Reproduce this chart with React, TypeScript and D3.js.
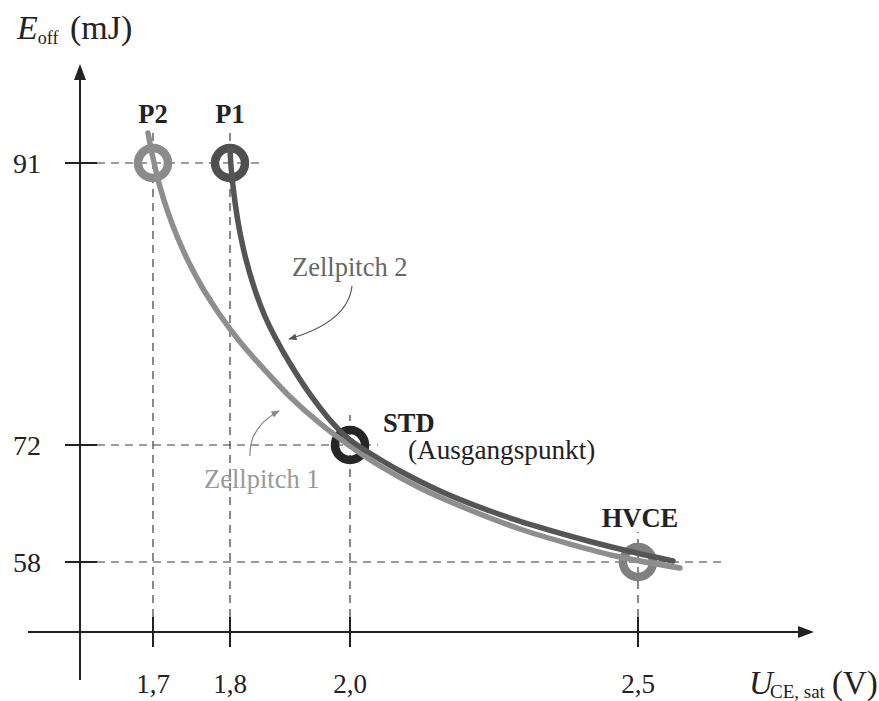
import React from "react";
import * as d3 from "d3";

// ---- data ----
const xTickValues = [1.7, 1.8, 2.0, 2.5];
const xTickLabels = ["1,7", "1,8", "2,0", "2,5"];
const yTickValues = [58, 72, 91];
const yTickLabels = ["58", "72", "91"];

// operating points
const pointNames = ["P2", "P1", "STD", "HVCE"];
const pointU = [1.7, 1.8, 2.0, 2.5];
const pointE = [91, 91, 72, 58];

// Zellpitch 1 (light curve)
const pitch1U = [1.6935, 1.7003, 1.7084, 1.7188, 1.7316, 1.7469, 1.7652, 1.7869, 1.8155, 1.8533, 1.9, 1.95, 2.0, 2.0521, 2.1215, 2.2083, 2.2951, 2.3819, 2.4688, 2.5729];
const pitch1E = [93.02, 91.27, 89.52, 87.77, 86.01, 84.26, 82.51, 80.76, 79.01, 77.26, 75.25, 73.45, 71.88, 69.49, 66.85, 64.22, 61.95, 60.15, 58.6, 57.28];

// Zellpitch 2 (dark curve)
const pitch2U = [1.8, 1.8015, 1.8043, 1.809, 1.8152, 1.826, 1.8417, 1.8573, 1.8732, 1.9015, 1.9377, 1.9738, 2.0, 2.0382, 2.0868, 2.1563, 2.2431, 2.3299, 2.4167, 2.4861, 2.5608];
const pitch2E = [92.01, 90.87, 89.72, 88.17, 86.62, 84.6, 82.44, 80.76, 79.41, 77.39, 75.17, 73.35, 72.34, 70.86, 68.89, 66.5, 64.1, 62.13, 60.45, 59.26, 58.12];

// ---- styles / layout ----
const W = 879;
const H = 701;
const AXIS_X = 80;
const AXIS_Y = 632;
const serif = "'Liberation Serif', 'Times New Roman', serif";
const ringColors = ["#8b8b8b", "#4f4f4f", "#262626", "#808080"];
const guideOver = [30, 32, 28, 89];

export default function App() {
  const x = d3.scaleLinear().domain([1.7, 1.8, 2.0, 2.5]).range([153, 230, 350, 638]);
  const y = d3.scaleLinear().domain([58, 72, 91]).range([562, 445, 163]);

  const line = d3
    .line<[number, number]>()
    .x((d) => x(d[0]))
    .y((d) => y(d[1]))
    .curve(d3.curveCatmullRom.alpha(0.5));

  const p1 = line(pitch1U.map((u, i) => [u, pitch1E[i]] as [number, number])) || "";
  const p2 = line(pitch2U.map((u, i) => [u, pitch2E[i]] as [number, number])) || "";

  const levels = Array.from(new Set(pointE));
  const hGuides = levels.map((e) => {
    const idx = pointE.map((v, i) => (v === e ? i : -1)).filter((i) => i >= 0);
    const maxX = d3.max(idx.map((i) => x(pointU[i]) + guideOver[i])) as number;
    return { e, x2: maxX };
  });

  const lab = 26.5;

  return (
    <svg
      width={W}
      height={H}
      style={{ position: "absolute", left: 0, top: 0, background: "#fff" }}
      fontFamily={serif}
    >
      <defs>
        <marker id="arrDark" viewBox="0 0 10 10" refX="9" refY="5" markerWidth="7" markerHeight="7" orient="auto">
          <path d="M0,1 L10,5 L0,9 z" fill="#555" />
        </marker>
        <marker id="arrLight" viewBox="0 0 10 10" refX="9" refY="5" markerWidth="7" markerHeight="7" orient="auto">
          <path d="M0,1 L10,5 L0,9 z" fill="#8a8a8a" />
        </marker>
      </defs>

      {/* guides */}
      {hGuides.map((g) => (
        <line key={"h" + g.e} x1={97} x2={g.x2} y1={y(g.e)} y2={y(g.e)} stroke="#3a3a3a" strokeWidth={1.2} strokeDasharray="8,6" />
      ))}
      {pointU.map((u, i) => (
        <line key={"v" + i} x1={x(u)} x2={x(u)} y1={AXIS_Y - 15} y2={y(pointE[i]) - 30} stroke="#3a3a3a" strokeWidth={1.2} strokeDasharray="8,6" />
      ))}

      {/* axes */}
      <line x1={AXIS_X} x2={AXIS_X} y1={680} y2={78} stroke="#222" strokeWidth={2} />
      <path d={`M${AXIS_X},64 L${AXIS_X - 6},80 L${AXIS_X + 6},80 Z`} fill="#222" />
      <line x1={28} x2={800} y1={AXIS_Y} y2={AXIS_Y} stroke="#222" strokeWidth={2} />
      <path d={`M814,${AXIS_Y} L798,${AXIS_Y - 6} L798,${AXIS_Y + 6} Z`} fill="#222" />

      {xTickValues.map((v, i) => (
        <g key={"xt" + i}>
          <line x1={x(v)} x2={x(v)} y1={AXIS_Y - 15} y2={AXIS_Y + 15} stroke="#222" strokeWidth={2} />
          <text x={x(v)} y={693} textAnchor="middle" fontSize={27} fill="#222">{xTickLabels[i]}</text>
        </g>
      ))}
      {yTickValues.map((v, i) => (
        <g key={"yt" + i}>
          <line x1={65} x2={97} y1={y(v)} y2={y(v)} stroke="#222" strokeWidth={2} />
          <text x={41} y={y(v)} dy="0.35em" textAnchor="end" fontSize={28} fill="#222">{yTickLabels[i]}</text>
        </g>
      ))}

      {/* rings */}
      {pointU.map((u, i) => (
        <circle key={"c" + i} cx={x(u)} cy={y(pointE[i])} r={15} fill="none" stroke={ringColors[i]} strokeWidth={8.5} />
      ))}

      {/* curves */}
      <path d={p1} fill="none" stroke="#8e8e8e" strokeWidth={5.5} strokeLinecap="round" />
      <path d={p2} fill="none" stroke="#555" strokeWidth={5.5} strokeLinecap="round" />

      {/* point labels */}
      <text x={x(pointU[0])} y={123} textAnchor="middle" fontSize={lab} fontWeight="bold" fill="#222">{pointNames[0]}</text>
      <text x={x(pointU[1])} y={123} textAnchor="middle" fontSize={lab} fontWeight="bold" fill="#222">{pointNames[1]}</text>
      <text x={383} y={432} fontSize={lab} fontWeight="bold" fill="#222">{pointNames[2]}</text>
      <text x={408} y={459} fontSize={27.2} fill="#222">(Ausgangspunkt)</text>
      <text x={640} y={527} textAnchor="middle" fontSize={lab} fontWeight="bold" fill="#222">{pointNames[3]}</text>

      {/* curve annotations */}
      <text x={292} y={276} fontSize={lab} fill="#666">Zellpitch 2</text>
      <path d="M352,286 Q348,322 289,339" fill="none" stroke="#555" strokeWidth={1.2} markerEnd="url(#arrDark)" />
      <text x={204} y={488} fontSize={lab} fill="#999">Zellpitch 1</text>
      <path d="M250,456 Q249,427 279,411" fill="none" stroke="#888" strokeWidth={1.2} markerEnd="url(#arrLight)" />

      {/* axis titles */}
      <text y={39} fontSize={34} fill="#222">
        <tspan x={17} fontStyle="italic">E</tspan>
        <tspan fontSize={18} dy={5}>off</tspan>
        <tspan x={70} dy={-5}>(mJ)</tspan>
      </text>
      <text y={694} fontSize={33} fill="#222">
        <tspan x={749} fontStyle="italic">U</tspan>
        <tspan x={770} fontSize={19} dy={4}>CE, sat</tspan>
        <tspan x={832} dy={-4}>(V)</tspan>
      </text>
    </svg>
  );
}
